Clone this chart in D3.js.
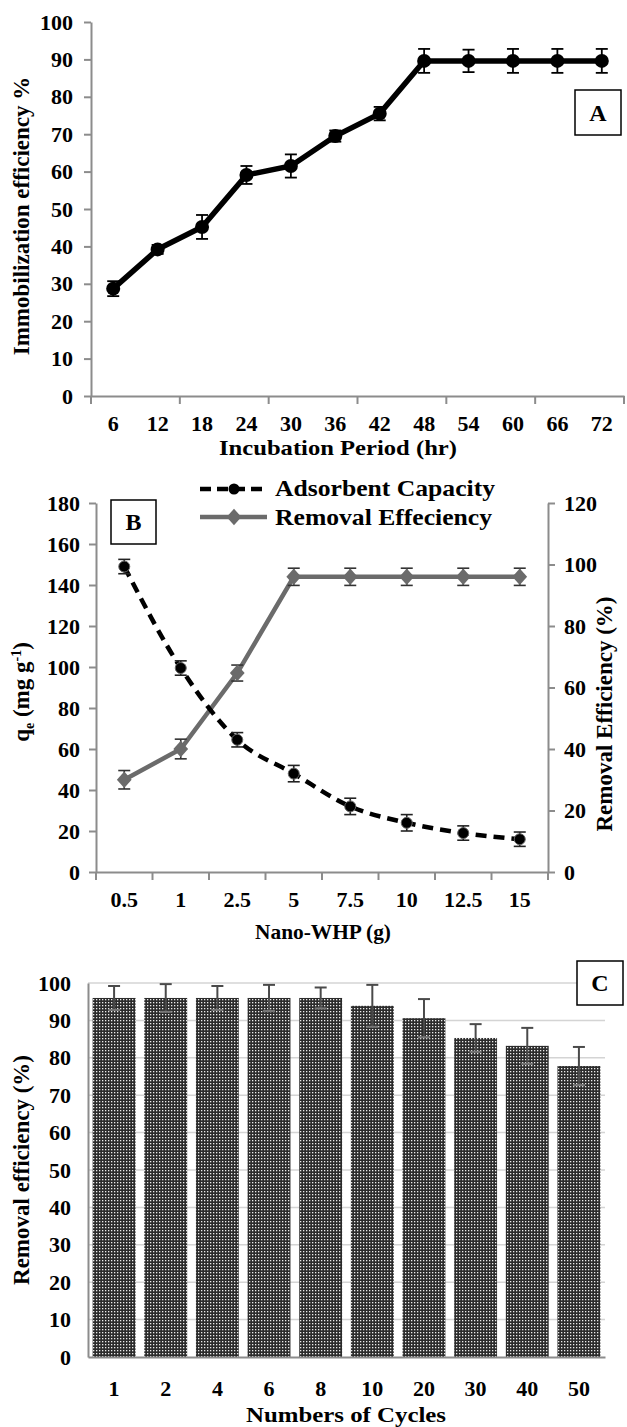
<!DOCTYPE html>
<html lang="en">
<head>
<meta charset="utf-8">
<title>Immobilization / Removal efficiency</title>
<script src="https://cdn.jsdelivr.net/npm/d3@7"></script>
<style>
  body { margin: 0; background: #fff; }
  svg text { font-family: "Liberation Serif", "DejaVu Serif", serif; font-weight: bold; fill: #000; }
</style>
</head>
<body>
<script>
// --- panel A data
var hours = [6, 12, 18, 24, 30, 36, 42, 48, 54, 60, 66, 72];
var immob = [28.7, 39.2, 45.2, 59.1, 61.5, 69.5, 75.5, 89.6, 89.6, 89.6, 89.6, 89.6];
var immobErr = [2, 1.2, 3.2, 2.4, 3.1, 1.5, 1.8, 3.2, 3, 3.2, 3.2, 3.2];

// --- panel B data
var doses = ["0.5", "1", "2.5", "5", "7.5", "10", "12.5", "15"];
var capacity = [149, 99.5, 64.5, 48, 32, 24, 19, 16];
var capacityErr = [3.5, 3.5, 3.5, 4, 4, 4, 3.5, 3.5];
var removal = [30, 40, 64.7, 96, 96, 96, 96, 96];
var removalErr = [3, 3.2, 2.6, 2.8, 2.8, 2.8, 2.8, 2.8];

// --- panel C data
var cycles = ["1", "2", "4", "6", "8", "10", "20", "30", "40", "50"];
var reuse = [96, 96, 96, 96, 96, 93.9, 90.6, 85.3, 83.2, 77.8];
var reuseErr = [3.2, 3.7, 3.2, 3.5, 2.8, 5.6, 5.1, 3.7, 4.8, 5.1];

var W = 627, H = 1427;
var axisGrey = "#8c8c8c";
var lineGrey = "#6b6b6b";
var FONT = "Liberation Serif";

var svg = d3.select("body").append("svg")
  .attr("width", W).attr("height", H);

var defs = svg.append("defs");
var pat = defs.append("pattern").attr("id", "checker")
  .attr("patternUnits", "userSpaceOnUse").attr("width", 3).attr("height", 3);
pat.append("rect").attr("width", 3).attr("height", 3).attr("fill", "#2b2b2b");
pat.append("rect").attr("width", 1.3).attr("height", 1.3).attr("fill", "#ececec");

function styleAxis(g) {
  g.attr("font-family", FONT);
  g.selectAll("path.domain").attr("stroke", axisGrey).attr("stroke-width", 2);
  g.selectAll(".tick line").attr("stroke", axisGrey).attr("stroke-width", 2);
  g.selectAll(".tick text").attr("font-size", 22).attr("fill", "#000");
}

function labelBox(x, y, w, h, t) {
  svg.append("rect").attr("x", x).attr("y", y).attr("width", w).attr("height", h)
    .attr("fill", "#fff").attr("stroke", "#000").attr("stroke-width", 1.5);
  svg.append("text").attr("x", x + w / 2).attr("y", y + h / 2 + 8)
    .attr("text-anchor", "middle").attr("font-size", 24).text(t);
}

function yTitle(x, y, t) {
  return svg.append("text").attr("transform", "translate(" + x + "," + y + ") rotate(-90)")
    .attr("text-anchor", "middle").attr("font-size", 23).text(t);
}

// horizontal titles are a bit wide in the original, stretch them to width
function xTitle(x, y, t, w) {
  return svg.append("text").attr("x", x - w / 2).attr("y", y)
    .attr("font-size", 22).attr("textLength", w).attr("lengthAdjust", "spacingAndGlyphs").text(t);
}

// ================= Panel A =================
var xA = d3.scaleBand().domain(hours).range([91, 624]);
var yA = d3.scaleLinear().domain([0, 100]).range([396, 22]);

svg.append("g").attr("transform", "translate(91,0)")
  .call(d3.axisLeft(yA).tickValues(d3.range(0, 101, 10)).tickSize(7).tickSizeOuter(0).tickPadding(11))
  .call(styleAxis);
var gxA = svg.append("g").attr("transform", "translate(0,396)")
  .call(d3.axisBottom(xA).tickSize(0).tickPadding(19))
  .call(styleAxis);
gxA.selectAll(".tick-b").data(d3.range(0, hours.length + 1, 2)).enter().append("line")
  .attr("x1", function (i) { return xA.range()[0] + i * xA.step(); })
  .attr("x2", function (i) { return xA.range()[0] + i * xA.step(); })
  .attr("y1", 0).attr("y2", 8).attr("stroke", axisGrey).attr("stroke-width", 2);

xTitle(338, 455, "Incubation Period (hr)", 238);
yTitle(29, 216, "Immobilization efficiency %");

var cxA = function (d, i) { return xA(hours[i]) + xA.bandwidth() / 2; };
svg.append("path").datum(immob)
  .attr("fill", "none").attr("stroke", "#000").attr("stroke-width", 5.5)
  .attr("d", d3.line().x(cxA).y(function (d) { return yA(d); }));
var ebA = svg.append("g").attr("stroke", "#000").attr("stroke-width", 1.8);
immob.forEach(function (v, i) {
  var x = cxA(v, i), y1 = yA(v - immobErr[i]), y2 = yA(v + immobErr[i]);
  ebA.append("line").attr("x1", x).attr("x2", x).attr("y1", y1).attr("y2", y2);
  ebA.append("line").attr("x1", x - 6).attr("x2", x + 6).attr("y1", y1).attr("y2", y1);
  ebA.append("line").attr("x1", x - 6).attr("x2", x + 6).attr("y1", y2).attr("y2", y2);
});
svg.append("g").selectAll("circle").data(immob).enter().append("circle")
  .attr("cx", cxA).attr("cy", function (d) { return yA(d); }).attr("r", 7).attr("fill", "#000");

labelBox(575, 90, 46, 45, "A");

// ================= Panel B =================
var xB = d3.scaleBand().domain(doses).range([96, 548]);
var yBL = d3.scaleLinear().domain([0, 180]).range([872, 503]);
var yBR = d3.scaleLinear().domain([0, 120]).range([872, 503]);

svg.append("g").attr("transform", "translate(96,0)")
  .call(d3.axisLeft(yBL).tickValues(d3.range(0, 181, 20)).tickSize(7).tickSizeOuter(0).tickPadding(9))
  .call(styleAxis);
svg.append("g").attr("transform", "translate(548,0)")
  .call(d3.axisRight(yBR).tickValues(d3.range(0, 121, 20)).tickSize(7).tickSizeOuter(0).tickPadding(9))
  .call(styleAxis);
var gxB = svg.append("g").attr("transform", "translate(0,872)")
  .call(d3.axisBottom(xB).tickSize(0).tickPadding(19))
  .call(styleAxis);
gxB.selectAll(".tick-b").data(d3.range(0, doses.length + 1)).enter().append("line")
  .attr("x1", function (i) { return xB.range()[0] + i * xB.step(); })
  .attr("x2", function (i) { return xB.range()[0] + i * xB.step(); })
  .attr("y1", 0).attr("y2", 8).attr("stroke", axisGrey).attr("stroke-width", 2);

xTitle(323, 939, "Nano-WHP (g)", 136);
var qt = yTitle(29, 692, "q");
qt.append("tspan").attr("font-size", 14).attr("dy", 5).text("e");
qt.append("tspan").attr("dy", -5).text(" (mg g");
qt.append("tspan").attr("font-size", 14).attr("dy", -8).text("-1");
qt.append("tspan").attr("dy", 8).text(")");
yTitle(612, 714, "Removal Efficiency (%)");

var cxB = function (d, i) { return xB(doses[i]) + xB.bandwidth() / 2; };

// small rhombus marker used for removal efficiency
var rhombus = {
  draw: function (ctx, size) {
    var w = Math.sqrt(size) * 0.55, h = Math.sqrt(size) * 0.62;
    ctx.moveTo(0, -h); ctx.lineTo(w, 0); ctx.lineTo(0, h); ctx.lineTo(-w, 0); ctx.closePath();
  }
};
var diamond = d3.symbol().type(rhombus).size(180);

// removal efficiency (grey, right axis)
svg.append("path").datum(removal)
  .attr("fill", "none").attr("stroke", lineGrey).attr("stroke-width", 4.5)
  .attr("d", d3.line().x(cxB).y(function (d) { return yBR(d); }));
var ebR = svg.append("g").attr("stroke", "#333").attr("stroke-width", 1.6);
removal.forEach(function (v, i) {
  var x = cxB(v, i), y1 = yBR(v - removalErr[i]), y2 = yBR(v + removalErr[i]);
  ebR.append("line").attr("x1", x).attr("x2", x).attr("y1", y1).attr("y2", y2);
  ebR.append("line").attr("x1", x - 6).attr("x2", x + 6).attr("y1", y1).attr("y2", y1);
  ebR.append("line").attr("x1", x - 6).attr("x2", x + 6).attr("y1", y2).attr("y2", y2);
});
svg.append("g").selectAll("path").data(removal).enter().append("path")
  .attr("d", diamond)
  .attr("transform", function (d, i) { return "translate(" + cxB(d, i) + "," + yBR(d) + ")"; })
  .attr("fill", lineGrey);

// adsorbent capacity (black dashed, left axis)
svg.append("path").datum(capacity)
  .attr("fill", "none").attr("stroke", "#000").attr("stroke-width", 4.5)
  .attr("stroke-dasharray", "11,7")
  .attr("d", d3.line().curve(d3.curveMonotoneX).x(cxB).y(function (d) { return yBL(d); }));
var ebC = svg.append("g").attr("stroke", "#222").attr("stroke-width", 1.6);
capacity.forEach(function (v, i) {
  var x = cxB(v, i), y1 = yBL(v - capacityErr[i]), y2 = yBL(v + capacityErr[i]);
  ebC.append("line").attr("x1", x).attr("x2", x).attr("y1", y1).attr("y2", y2);
  ebC.append("line").attr("x1", x - 6).attr("x2", x + 6).attr("y1", y1).attr("y2", y1);
  ebC.append("line").attr("x1", x - 6).attr("x2", x + 6).attr("y1", y2).attr("y2", y2);
});
svg.append("g").selectAll("circle").data(capacity).enter().append("circle")
  .attr("cx", cxB).attr("cy", function (d) { return yBL(d); }).attr("r", 5.5)
  .attr("fill", "#000").attr("stroke", "#666").attr("stroke-width", 1);

// legend
var leg = svg.append("g");
leg.append("line").attr("x1", 200).attr("x2", 262).attr("y1", 489).attr("y2", 489)
  .attr("stroke", "#000").attr("stroke-width", 4.5).attr("stroke-dasharray", "11,6");
leg.append("circle").attr("cx", 234).attr("cy", 489).attr("r", 5.5).attr("fill", "#000");
leg.append("text").attr("x", 275).attr("y", 496).attr("font-size", 23)
  .attr("textLength", 220).attr("lengthAdjust", "spacingAndGlyphs").text("Adsorbent Capacity");
leg.append("line").attr("x1", 200).attr("x2", 267).attr("y1", 517).attr("y2", 517)
  .attr("stroke", lineGrey).attr("stroke-width", 4.5);
leg.append("path").attr("d", diamond).attr("transform", "translate(234,517)").attr("fill", lineGrey);
leg.append("text").attr("x", 275).attr("y", 525).attr("font-size", 23)
  .attr("textLength", 217).attr("lengthAdjust", "spacingAndGlyphs").text("Removal Effeciency");

labelBox(111, 500, 45, 44, "B");

// ================= Panel C =================
var xC = d3.scaleBand().domain(cycles).range([88, 605]).paddingInner(0.17).paddingOuter(0.09);
var yC = d3.scaleLinear().domain([0, 100]).range([1357, 983]);

svg.append("g").selectAll("line").data(d3.range(10, 101, 10)).enter().append("line")
  .attr("x1", 88).attr("x2", 605)
  .attr("y1", function (d) { return yC(d); }).attr("y2", function (d) { return yC(d); })
  .attr("stroke", "#d4d4d4").attr("stroke-width", 1.5);

svg.append("g").selectAll("rect").data(reuse).enter().append("rect")
  .attr("x", function (d, i) { return xC(cycles[i]); })
  .attr("width", xC.bandwidth())
  .attr("y", function (d) { return yC(d); })
  .attr("height", function (d) { return yC(0) - yC(d); })
  .attr("fill", "url(#checker)");

var ebB = svg.append("g").attr("stroke", "#4a4a4a").attr("stroke-width", 2);
reuse.forEach(function (v, i) {
  var x = xC(cycles[i]) + xC.bandwidth() / 2, y1 = yC(v - reuseErr[i]), y2 = yC(v + reuseErr[i]);
  ebB.append("line").attr("x1", x).attr("x2", x).attr("y1", y1).attr("y2", y2);
  ebB.append("line").attr("x1", x - 6).attr("x2", x + 6).attr("y1", y2).attr("y2", y2);
  ebB.append("line").attr("x1", x - 6).attr("x2", x + 6).attr("y1", y1).attr("y2", y1).attr("stroke", "#777");
});

svg.append("g").attr("transform", "translate(88,0)")
  .call(d3.axisLeft(yC).tickValues(d3.range(0, 101, 10)).tickSize(0).tickSizeOuter(0).tickPadding(17))
  .call(styleAxis);
svg.append("g").attr("transform", "translate(0,1357)")
  .call(d3.axisBottom(xC).tickSize(0).tickSizeOuter(0).tickPadding(23))
  .call(styleAxis);

xTitle(346, 1422, "Numbers of Cycles", 200);
yTitle(29, 1170, "Removal efficiency (%)");

labelBox(577, 961, 46, 44, "C");
</script>
</body>
</html>
